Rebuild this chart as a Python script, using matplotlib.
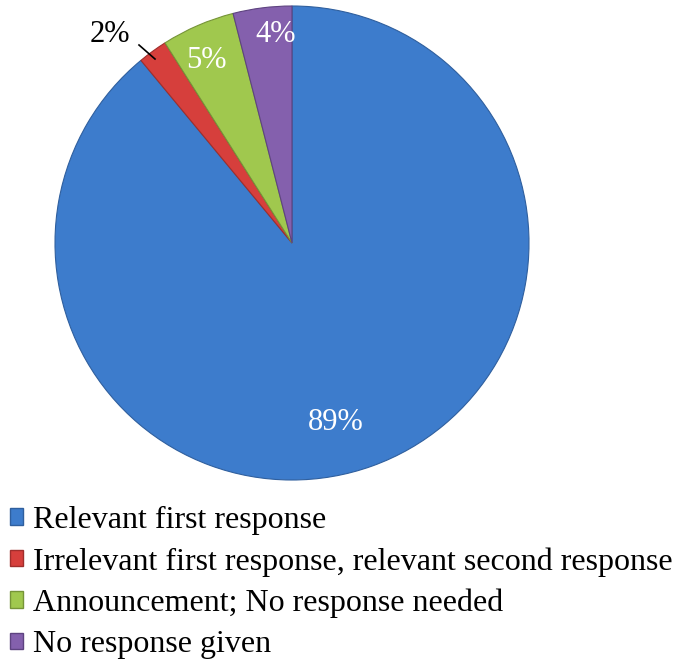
import matplotlib.pyplot as plt
from matplotlib.patches import Patch

categories = [
    "Relevant first response",
    "Irrelevant first response, relevant second response",
    "Announcement; No response needed",
    "No response given",
]
shares = [89, 2, 5, 4]
colors = ["#3d7ccc", "#d63f3c", "#a0c84e", "#8460ad"]
edges = ["#2f5f9e", "#a02e2c", "#769438", "#5e4380"]

plt.rcParams["font.family"] = ["Liberation Serif", "DejaVu Serif"]

W, H = 679, 670
fig = plt.figure(figsize=(W / 100, H / 100), dpi=100)

# pie centre and radius in pixels
cx, cy, r = 292, 243, 237
ax = fig.add_axes([(cx - r) / W, (H - cy - r) / H, 2 * r / W, 2 * r / H])

wedges, _ = ax.pie(
    shares, colors=colors, startangle=90, counterclock=False, radius=1,
)
for w, ec in zip(wedges, edges):
    w.set_edgecolor(ec)
    w.set_linewidth(0.8)

# pie() resets the limits, so set them afterwards
ax.set_xlim(-1, 1)
ax.set_ylim(-1, 1)
ax.set_aspect("equal")
ax.axis("off")


def px(x, y):
    return (x - cx) / r, (cy - y) / r


labels = [f"{v}%" for v in shares]
label_pos = [(336, 423), (110, 35), (206, 60), (276, 35)]
label_col = ["white", "black", "white", "white"]
for t, (x, y), c in zip(labels, label_pos, label_col):
    ax.text(*px(x, y), t, color=c, fontsize=22, ha="center", va="center")

# leader line for the small slice
(x0, y0), (x1, y1) = px(139, 45), px(155, 59)
ax.plot([x0, x1], [y0, y1], color="black", lw=1.2, clip_on=False)

handles = [Patch(facecolor=c, edgecolor=e, linewidth=1) for c, e in zip(colors, edges)]
fig.legend(
    handles, categories, loc="upper left", bbox_to_anchor=(0.014, 0.245),
    frameon=False, fontsize=23, handlelength=0.42, handleheight=0.42,
    handletextpad=0.3, labelspacing=0.38, borderaxespad=0, borderpad=0,
)

fig.savefig("out.png", dpi=100)
